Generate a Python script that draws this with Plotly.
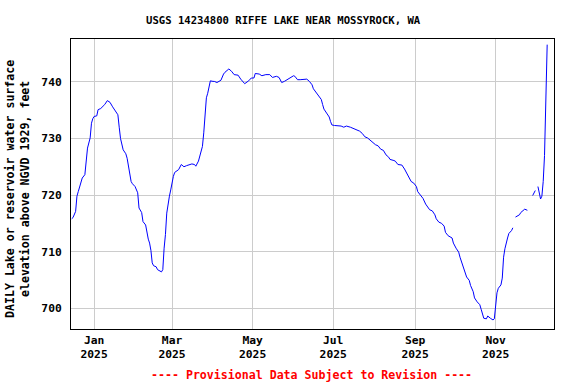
import plotly.graph_objects as go

dates = [
    "2024-12-15", "2024-12-16", "2024-12-18", "2024-12-19", "2024-12-20", "2024-12-22",
    "2024-12-23", "2024-12-25", "2024-12-26", "2024-12-27", "2024-12-29", "2024-12-30",
    "2024-12-31", "2025-01-01", "2025-01-03", "2025-01-04", "2025-01-06", "2025-01-09",
    "2025-01-11", "2025-01-13", "2025-01-15", "2025-01-17", "2025-01-19", "2025-01-20",
    "2025-01-21", "2025-01-23", "2025-01-25", "2025-01-26", "2025-01-27", "2025-01-28",
    "2025-01-29", "2025-01-30", "2025-02-01", "2025-02-03", "2025-02-04", "2025-02-06",
    "2025-02-07", "2025-02-09", "2025-02-10", "2025-02-11", "2025-02-12", "2025-02-13",
    "2025-02-14", "2025-02-15", "2025-02-17", "2025-02-18", "2025-02-21", "2025-02-22",
    "2025-02-23", "2025-02-24", "2025-02-25", "2025-02-26", "2025-02-27", "2025-02-28",
    "2025-03-01", "2025-03-02", "2025-03-03", "2025-03-04", "2025-03-06", "2025-03-08",
    "2025-03-10", "2025-03-12", "2025-03-14", "2025-03-16", "2025-03-18", "2025-03-19",
    "2025-03-21", "2025-03-22", "2025-03-24", "2025-03-25", "2025-03-26", "2025-03-27",
    "2025-03-28", "2025-03-29", "2025-03-30", "2025-04-01", "2025-04-02", "2025-04-04",
    "2025-04-06", "2025-04-07", "2025-04-09", "2025-04-10", "2025-04-13", "2025-04-15",
    "2025-04-17", "2025-04-20", "2025-04-22", "2025-04-25", "2025-04-28", "2025-04-30",
    "2025-05-02", "2025-05-03", "2025-05-06", "2025-05-08", "2025-05-11", "2025-05-14",
    "2025-05-16", "2025-05-19", "2025-05-21", "2025-05-23", "2025-05-25", "2025-05-27",
    "2025-05-29", "2025-06-01", "2025-06-02", "2025-06-04", "2025-06-06", "2025-06-09",
    "2025-06-11", "2025-06-13", "2025-06-15", "2025-06-16", "2025-06-18", "2025-06-20",
    "2025-06-22", "2025-06-23", "2025-06-24", "2025-06-26", "2025-06-28", "2025-06-29",
    "2025-06-30", "2025-07-02", "2025-07-04", "2025-07-07", "2025-07-09", "2025-07-11",
    "2025-07-14", "2025-07-17", "2025-07-19", "2025-07-21", "2025-07-23", "2025-07-25",
    "2025-07-27", "2025-07-29", "2025-07-31", "2025-08-02", "2025-08-04", "2025-08-06",
    "2025-08-08", "2025-08-10", "2025-08-12", "2025-08-13", "2025-08-16", "2025-08-17",
    "2025-08-19", "2025-08-22", "2025-08-24", "2025-08-26", "2025-08-28", "2025-08-29",
    "2025-08-31", "2025-09-02", "2025-09-03", "2025-09-05", "2025-09-07", "2025-09-09",
    "2025-09-12", "2025-09-14", "2025-09-16", "2025-09-17", "2025-09-19", "2025-09-21",
    "2025-09-23", "2025-09-24", "2025-09-26", "2025-09-29", "2025-09-30", "2025-10-02",
    "2025-10-04", "2025-10-05", "2025-10-06", "2025-10-07", "2025-10-08", "2025-10-10",
    "2025-10-12", "2025-10-13", "2025-10-15", "2025-10-16", "2025-10-18", "2025-10-20",
    "2025-10-21", "2025-10-22", "2025-10-23", "2025-10-25", "2025-10-26", "2025-10-28",
    "2025-10-30", "2025-10-31", "2025-11-01", "2025-11-02", "2025-11-03", "2025-11-05",
    "2025-11-06", "2025-11-07", "2025-11-08", "2025-11-09", "2025-11-10", "2025-11-11",
    "2025-11-13", "2025-11-14", "2025-11-15", "2025-11-16", "2025-11-17", "2025-11-19",
    "2025-11-20", "2025-11-22", "2025-11-23", "2025-11-25", "2025-11-26", "2025-11-29",
    "2025-12-01", "2025-12-02", "2025-12-03", "2025-12-04", "2025-12-05", "2025-12-06",
    "2025-12-07", "2025-12-08", "2025-12-09", "2025-12-10",
]

elevation = [
    715.8, 716.0, 717.1, 719.8, 720.6, 722.1,
    723.0, 723.6, 726.1, 728.3, 730.1, 732.7,
    733.5, 733.9, 734.0, 735.1, 735.3, 736.0,
    736.7, 736.4, 735.6, 735.0, 734.2, 732.0,
    730.0, 728.0, 727.3, 726.5, 725.0, 724.0,
    722.4, 722.0, 721.5, 720.4, 717.7, 716.9,
    715.3, 714.7, 713.0, 712.2, 711.5, 710.2,
    708.0, 707.5, 707.3, 706.8, 706.4, 706.8,
    710.6, 713.0, 716.8, 718.5, 719.8, 720.9,
    722.5, 723.3, 724.0, 724.2, 724.5, 725.4,
    725.0, 725.2, 725.4, 725.5, 725.4, 725.1,
    726.0, 727.0, 728.6, 731.0, 735.1, 737.2,
    738.0, 738.9, 740.2, 740.1, 740.1, 739.9,
    740.2, 740.3, 741.4, 741.7, 742.3, 741.9,
    741.3, 741.2, 740.5, 739.7, 740.2, 740.7,
    740.7, 741.5, 741.4, 741.1, 741.3, 741.3,
    740.8, 741.0, 740.8, 739.9, 740.1, 740.4,
    740.7, 741.1, 741.0, 740.4, 740.4, 740.5,
    740.5, 740.1, 739.5, 738.8, 738.2, 737.5,
    736.9, 736.0, 735.2, 734.5, 733.8, 733.0,
    732.4, 732.3, 732.3, 732.2, 732.0, 732.2,
    732.0, 731.7, 731.4, 731.3, 730.9, 730.3,
    730.1, 729.7, 729.2, 728.9, 728.7, 728.1,
    727.9, 727.1, 726.7, 726.3, 726.1, 726.0,
    725.4, 725.3, 724.6, 723.8, 722.8, 722.4,
    722.1, 721.5, 720.6, 719.9, 719.4, 718.4,
    717.4, 717.2, 716.5, 715.8, 715.2, 715.0,
    714.5, 713.4, 712.8, 712.4, 711.5, 710.6,
    709.9, 709.0, 708.3, 707.7, 706.9, 705.5,
    704.9, 704.0, 702.9, 701.8, 701.1, 700.6,
    699.8, 698.8, 698.2, 698.1, 698.6, 698.2,
    697.9, 698.1, 700.9, 702.7, 703.5, 704.1,
    705.3, 709.0, 710.5, 711.8, 712.4, 713.2,
    713.7, 714.2, None, 716.1, 716.2, 716.5,
    716.9, 717.3, 717.5, 717.3, None, 719.9,
    720.8, None, 721.5, 720.4, 719.3, 719.8,
    722.4, 727.0, 737.8, 746.6,
]

tick_dates = ["2025-01-01", "2025-03-01", "2025-05-01", "2025-07-01", "2025-09-01", "2025-11-01"]
tick_labels = ["Jan<br>2025", "Mar<br>2025", "May<br>2025", "Jul<br>2025", "Sep<br>2025", "Nov<br>2025"]
y_ticks = [700, 710, 720, 730, 740]

title_text = "USGS 14234800 RIFFE LAKE NEAR MOSSYROCK, WA"
y_title = "DAILY Lake or reservoir water surface<br>elevation above NGVD 1929, feet"
note_text = "---- Provisional Data Subject to Revision ----"

FONT = "DejaVu Sans Mono"

fig = go.Figure()
fig.add_trace(go.Scatter(
    x=dates, y=elevation, mode="lines",
    line=dict(color="#0000ff", width=1),
    connectgaps=False, showlegend=False, hoverinfo="x+y",
))

fig.update_layout(
    width=576, height=384,
    margin=dict(l=71, r=22, t=39, b=55),
    paper_bgcolor="white", plot_bgcolor="white",
    font=dict(family=FONT, color="black", size=11),
    showlegend=False,
    xaxis=dict(
        type="date",
        range=["2024-12-14 12:00", "2025-12-15 04:00"],
        tickmode="array", tickvals=tick_dates, ticktext=tick_labels,
        showgrid=True, gridcolor="#cccccc", gridwidth=1,
        showline=True, linecolor="black", linewidth=1, mirror=True,
        ticks="", zeroline=False,
        tickfont=dict(family=FONT, size=11.3, color="black", weight="bold"),
    ),
    yaxis=dict(
        range=[696.3, 747.6],
        tickmode="array", tickvals=y_ticks,
        showgrid=True, gridcolor="#cccccc", gridwidth=1,
        showline=True, linecolor="black", linewidth=1, mirror=True,
        ticks="", zeroline=False, ticklabelstandoff=6,
        tickfont=dict(family=FONT, size=11.3, color="black", weight="bold"),
    ),
    annotations=[
        dict(text=title_text, xref="paper", yref="paper",
             x=(283 - 71) / 483, y=(329 - 20) / 290, xanchor="center", yanchor="middle",
             showarrow=False, font=dict(family=FONT, size=10.6, color="black", weight="bold")),
        dict(text=y_title, xref="paper", yref="paper",
             x=(18 - 71) / 483, y=(329 - 189) / 290, xanchor="center", yanchor="middle",
             textangle=-90, showarrow=False,
             font=dict(family=FONT, size=11.6, color="black", weight="bold")),
        dict(text=note_text, xref="paper", yref="paper",
             x=(311 - 71) / 483, y=(329 - 375) / 290, xanchor="center", yanchor="middle",
             showarrow=False, font=dict(family=FONT, size=11.6, color="#ff0000", weight="bold")),
    ],
)

fig.write_html(
    "out.html",
    config={"displayModeBar": False},
    post_script="document.body.style.margin='0';document.body.style.padding='0';",
)
